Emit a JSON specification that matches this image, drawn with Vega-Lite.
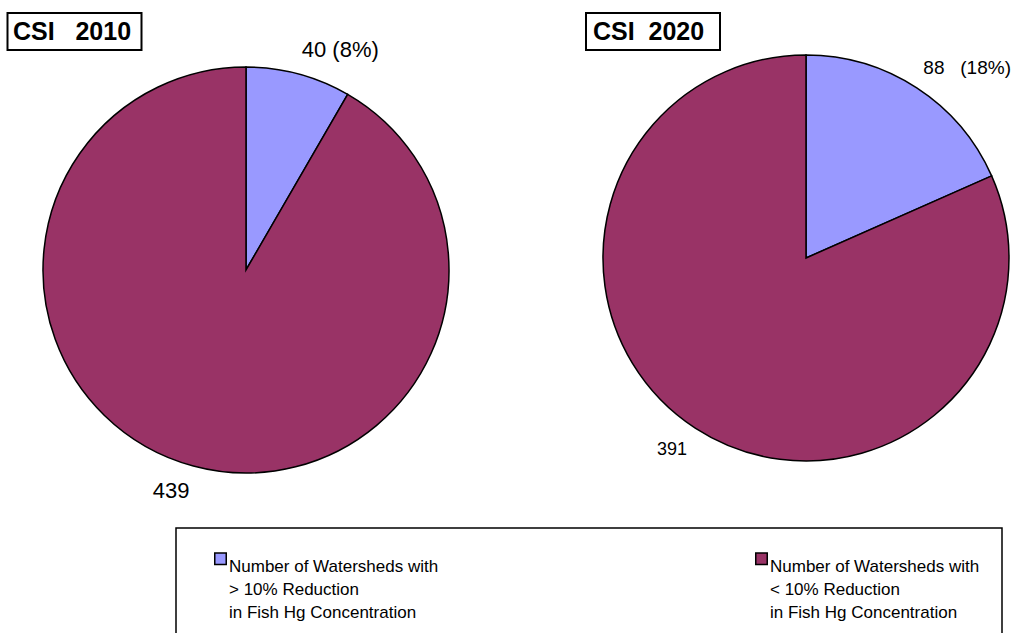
{
  "$schema": "https://vega.github.io/schema/vega-lite/v6.json",
  "width": 1032,
  "height": 633,
  "padding": 0,
  "autosize": "none",
  "background": "white",
  "config": {
    "view": {"stroke": null},
    "font": "Liberation Sans",
    "text": {"color": "black"}
  },
  "datasets": {
    "slices": [
      {"panel": "CSI 2010", "group": "gt", "count": 40, "label": "40 (8%)"},
      {"panel": "CSI 2010", "group": "lt", "count": 439, "label": "439"},
      {"panel": "CSI 2020", "group": "gt", "count": 88, "label": "88\u00a0\u00a0\u00a0(18%)"},
      {"panel": "CSI 2020", "group": "lt", "count": 391, "label": "391"}
    ],
    "titles": [
      {"panel": "CSI 2010", "title": "CSI\u00a0\u00a0\u00a02010"},
      {"panel": "CSI 2020", "title": "CSI\u00a0\u00a02020"}
    ]
  },
  "layer": [
    {
      "data": {"name": "slices"},
      "transform": [
        {"stack": "count", "groupby": ["panel"], "as": ["t0", "t1"], "offset": "normalize", "sort": [{"field": "group", "order": "ascending"}]}
      ],
      "mark": {"type": "arc", "outerRadius": 203, "stroke": "black", "strokeWidth": 1.5},
      "encoding": {
        "x": {"field": "panel", "type": "nominal", "axis": null, "scale": {"type": "point", "domain": ["CSI 2010", "CSI 2020"], "range": [246, 806], "padding": 0}},
        "y": {"field": "panel", "type": "nominal", "axis": null, "scale": {"type": "point", "domain": ["CSI 2010", "CSI 2020"], "range": [270, 258], "padding": 0}},
        "theta": {"field": "t0", "type": "quantitative", "scale": {"domain": [0, 1]}},
        "theta2": {"field": "t1"},
        "color": {
          "field": "group",
          "type": "nominal",
          "scale": {"domain": ["gt", "lt"], "range": ["#9999FF", "#993366"]},
          "legend": {
            "title": null,
            "orient": "none",
            "legendX": 176,
            "legendY": 528,
            "direction": "horizontal",
            "columns": 2,
            "columnPadding": 300,
            "padding": 22,
            "symbolOffset": 14,
            "strokeColor": "black",
            "symbolType": "square",
            "symbolSize": 132,
            "symbolStrokeColor": "black",
            "symbolStrokeWidth": 1.5,
            "symbolOpacity": 1,
            "labelFont": "Liberation Sans",
            "labelFontSize": 17,
            "labelColor": "black",
            "labelLimit": 600,
            "labelOffset": 0,
            "labelBaseline": "top",
            "labelExpr": "datum.value == 'gt' ? ['Number of Watersheds with', '\u2002> 10% Reduction', 'in Fish Hg Concentration'] : ['Number of Watersheds with', '\u2002< 10% Reduction', 'in Fish Hg Concentration']",
            "encode": {
              "labels": {"update": {"lineHeight": {"value": 23}}},
              "legend": {"update": {"strokeWidth": {"value": 1.5}}}
            }
          }
        }
      }
    },
    {
      "data": {"name": "slices"},
      "transform": [
        {"stack": "count", "groupby": ["panel"], "as": ["t0", "t1"], "offset": "normalize", "sort": [{"field": "group", "order": "ascending"}]},
        {"calculate": "(datum.t0 + datum.t1) / 2", "as": "mid"},
        {"filter": "datum.group == 'gt'"}
      ],
      "mark": {"type": "text", "radius": 215, "align": "left", "baseline": "bottom"},
      "encoding": {
        "x": {"field": "panel", "type": "nominal", "axis": null, "scale": {"type": "point", "domain": ["CSI 2010", "CSI 2020"], "range": [246, 806], "padding": 0}},
        "y": {"field": "panel", "type": "nominal", "axis": null, "scale": {"type": "point", "domain": ["CSI 2010", "CSI 2020"], "range": [270, 258], "padding": 0}},
        "theta": {"field": "mid", "type": "quantitative", "scale": {"domain": [0, 1]}},
        "text": {"field": "label"},
        "size": {"field": "panel", "type": "ordinal", "scale": {"domain": ["CSI 2010", "CSI 2020"], "range": [22, 19]}, "legend": null}
      }
    },
    {
      "data": {"name": "slices"},
      "transform": [
        {"stack": "count", "groupby": ["panel"], "as": ["t0", "t1"], "offset": "normalize", "sort": [{"field": "group", "order": "ascending"}]},
        {"calculate": "(datum.t0 + datum.t1) / 2", "as": "mid"},
        {"filter": "datum.group == 'lt'"}
      ],
      "mark": {"type": "text", "radius": 218, "align": "right", "baseline": "top"},
      "encoding": {
        "x": {"field": "panel", "type": "nominal", "axis": null, "scale": {"type": "point", "domain": ["CSI 2010", "CSI 2020"], "range": [246, 806], "padding": 0}},
        "y": {"field": "panel", "type": "nominal", "axis": null, "scale": {"type": "point", "domain": ["CSI 2010", "CSI 2020"], "range": [270, 258], "padding": 0}},
        "theta": {"field": "mid", "type": "quantitative", "scale": {"domain": [0, 1]}},
        "text": {"field": "label"},
        "size": {"field": "panel", "type": "ordinal", "scale": {"domain": ["CSI 2010", "CSI 2020"], "range": [22, 18]}, "legend": null}
      }
    },
    {
      "data": {"name": "titles"},
      "mark": {"type": "point", "shape": "M-1,-0.276H1V0.276H-1Z", "filled": false, "stroke": "black", "strokeWidth": 2, "opacity": 1, "size": 17956},
      "encoding": {
        "x": {"field": "panel", "type": "nominal", "axis": null, "scale": {"type": "point", "domain": ["CSI 2010", "CSI 2020"], "range": [74.5, 653], "padding": 0}},
        "y": {"field": "panel", "type": "nominal", "axis": null, "scale": {"type": "point", "domain": ["CSI 2010", "CSI 2020"], "range": [31.5, 31.5], "padding": 0}}
      }
    },
    {
      "data": {"name": "titles"},
      "mark": {"type": "text", "font": "Liberation Sans", "fontWeight": "bold", "fontSize": 25, "baseline": "middle", "align": "center"},
      "encoding": {
        "x": {"field": "panel", "type": "nominal", "axis": null, "scale": {"type": "point", "domain": ["CSI 2010", "CSI 2020"], "range": [72, 648.5], "padding": 0}},
        "y": {"field": "panel", "type": "nominal", "axis": null, "scale": {"type": "point", "domain": ["CSI 2010", "CSI 2020"], "range": [32, 32], "padding": 0}},
        "text": {"field": "title"}
      }
    }
  ],
  "resolve": {"scale": {"x": "independent", "y": "independent", "theta": "independent", "size": "independent"}}
}
